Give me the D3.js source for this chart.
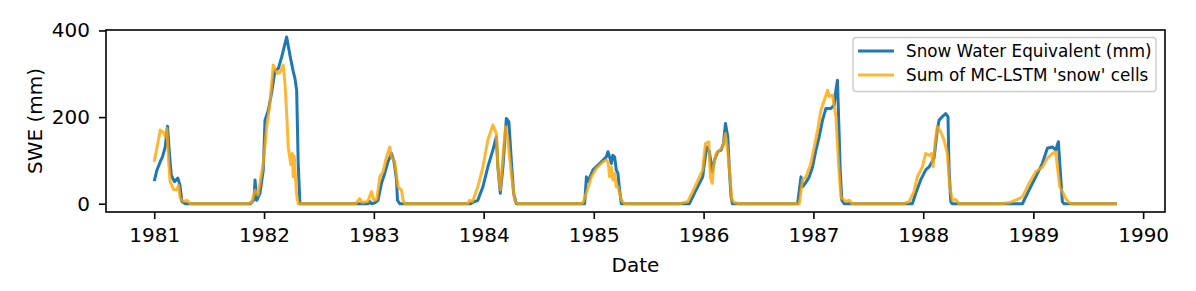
<!DOCTYPE html>
<html>
<head>
<meta charset="utf-8">
<script src="https://cdn.jsdelivr.net/npm/d3@7"></script>
<style>
  body { margin: 0; background: #fff; }
  text { font-family: "DejaVu Sans", sans-serif; }
</style>
</head>
<body>
<div id="chart"></div>
<script>
// observed snow water equivalent, [decimal year, mm]
var sweSeries = [
    [1981.000, 52], [1981.025, 78], [1981.055, 97], [1981.075, 108], [1981.100, 131],
    [1981.121, 179], [1981.136, 124], [1981.155, 66], [1981.184, 51], [1981.215, 59],
    [1981.234, 43], [1981.252, 5], [1981.282, 0],
    [1981.872, 0], [1981.891, 4], [1981.909, 10], [1981.918, 55], [1981.933, 8],
    [1981.963, 24], [1981.993, 78], [1982.009, 193], [1982.039, 216], [1982.070, 258],
    [1982.100, 308], [1982.130, 312], [1982.161, 339], [1982.181, 360], [1982.206, 385],
    [1982.236, 343], [1982.266, 305], [1982.281, 290], [1982.297, 262], [1982.311, 94],
    [1982.327, 0],
    [1982.950, 0], [1982.963, 5], [1982.980, 0], [1983.009, 2], [1983.038, 8],
    [1983.069, 47], [1983.099, 70], [1983.129, 97], [1983.160, 116], [1983.184, 97],
    [1983.206, 55], [1983.215, 8], [1983.236, 0],
    [1983.880, 0], [1983.902, 3], [1983.947, 8], [1983.993, 39], [1984.038, 85], [1984.084, 124],
    [1984.115, 155], [1984.129, 85], [1984.151, 24], [1984.175, 85], [1984.206, 197],
    [1984.229, 189], [1984.251, 101], [1984.272, 24], [1984.296, 0],
    [1984.917, 0], [1984.933, 62], [1984.947, 51], [1984.993, 78], [1985.053, 93],
    [1985.114, 108], [1985.129, 120], [1985.144, 108], [1985.160, 93], [1985.174, 112],
    [1985.190, 108], [1985.205, 78], [1985.220, 70], [1985.235, 32], [1985.251, 0],
    [1985.871, 0], [1985.916, 24], [1985.962, 47], [1985.992, 62], [1986.007, 93],
    [1986.029, 131], [1986.053, 120], [1986.078, 74], [1986.099, 101], [1986.129, 120],
    [1986.160, 124], [1986.181, 139], [1986.199, 185], [1986.220, 155], [1986.235, 78],
    [1986.250, 16], [1986.262, 0],
    [1986.856, 0], [1986.887, 62], [1986.901, 39], [1986.926, 47], [1986.962, 62],
    [1986.992, 85], [1987.023, 124], [1987.053, 155], [1987.083, 193], [1987.114, 220],
    [1987.159, 220], [1987.189, 228], [1987.205, 262], [1987.219, 285], [1987.235, 155],
    [1987.244, 78], [1987.259, 8], [1987.280, 0],
    [1987.901, 0], [1987.932, 24], [1987.977, 55], [1988.023, 78], [1988.053, 85],
    [1988.098, 105], [1988.128, 170], [1988.144, 193], [1988.173, 201], [1988.204, 208],
    [1988.225, 201], [1988.234, 85], [1988.250, 5], [1988.262, 0],
    [1988.901, 0], [1988.962, 32], [1989.022, 62], [1989.082, 93], [1989.128, 128],
    [1989.173, 131], [1989.204, 124], [1989.228, 143], [1989.243, 85], [1989.264, 5],
    [1989.280, 0], [1989.761, 0]
];

// sum of MC-LSTM 'snow' cells, [decimal year, mm]
var cellSeries = [
    [1981.000, 97], [1981.055, 170], [1981.085, 164], [1981.100, 155], [1981.115, 174],
    [1981.130, 101], [1981.145, 51], [1981.175, 33], [1981.206, 32], [1981.221, 43],
    [1981.236, 13], [1981.266, 5], [1981.297, 8], [1981.327, 0],
    [1981.854, 0], [1981.891, 5], [1981.918, 31], [1981.945, 20], [1981.993, 93],
    [1982.024, 178], [1982.054, 232], [1982.084, 320], [1982.100, 310], [1982.124, 301],
    [1982.145, 303], [1982.175, 320], [1982.191, 275], [1982.206, 208], [1982.221, 128],
    [1982.245, 90], [1982.257, 116], [1982.266, 62], [1982.275, 110], [1982.286, 60],
    [1982.297, 20], [1982.311, 0],
    [1982.836, 0], [1982.857, 8], [1982.872, 12], [1982.890, 3], [1982.945, 5],
    [1982.979, 28], [1983.000, 8], [1983.027, 10], [1983.054, 62], [1983.084, 74],
    [1983.115, 108], [1983.145, 131], [1983.160, 108], [1983.190, 97], [1983.220, 39],
    [1983.251, 32], [1983.266, 8], [1983.281, 0],
    [1983.854, 0], [1983.872, 8], [1983.899, 5], [1983.947, 39], [1983.993, 85],
    [1984.038, 147], [1984.084, 182], [1984.115, 162], [1984.129, 85], [1984.151, 32],
    [1984.175, 108], [1984.199, 178], [1984.220, 147], [1984.251, 70], [1984.281, 8],
    [1984.308, 0],
    [1984.880, 0], [1984.902, 2], [1984.947, 36], [1984.978, 62], [1985.023, 82], [1985.084, 97],
    [1985.114, 101], [1985.131, 95], [1985.144, 62], [1985.160, 85], [1985.174, 55],
    [1985.190, 70], [1985.205, 39], [1985.220, 40], [1985.251, 8], [1985.281, 0],
    [1985.781, 0], [1985.856, 5], [1985.916, 36], [1985.962, 62], [1985.992, 78],
    [1986.017, 139], [1986.047, 143], [1986.062, 62], [1986.078, 47], [1986.090, 85],
    [1986.114, 116], [1986.145, 124], [1986.175, 131], [1986.199, 162], [1986.220, 120],
    [1986.241, 62], [1986.256, 10], [1986.280, 3], [1986.326, 0],
    [1986.871, 0], [1986.901, 55], [1986.932, 62], [1986.977, 93], [1987.008, 131],
    [1987.038, 170], [1987.068, 216], [1987.099, 239], [1987.129, 262], [1987.145, 247],
    [1987.174, 251], [1987.205, 201], [1987.229, 93], [1987.250, 16], [1987.296, 5],
    [1987.326, 8], [1987.353, 0],
    [1987.825, 0], [1987.871, 5], [1987.916, 28], [1987.946, 62], [1987.992, 85],
    [1988.023, 116], [1988.053, 112], [1988.077, 116], [1988.089, 85], [1988.107, 139],
    [1988.128, 178], [1988.159, 166], [1988.189, 147], [1988.219, 116], [1988.241, 39],
    [1988.264, 8], [1988.295, 10], [1988.325, 0],
    [1988.700, 0], [1988.780, 2], [1988.855, 10], [1988.901, 16], [1988.961, 47], [1989.022, 74],
    [1989.082, 85], [1989.128, 105], [1989.173, 116], [1989.204, 120], [1989.219, 85],
    [1989.241, 39], [1989.264, 28], [1989.295, 12], [1989.325, 2], [1989.352, 0],
    [1989.761, 0]
];

var yearTicks = [1981, 1982, 1983, 1984, 1985, 1986, 1987, 1988, 1989, 1990];
var sweTicks = [0, 200, 400];
var legendLabels = ["Snow Water Equivalent (mm)", "Sum of MC-LSTM 'snow' cells"];
var seriesColors = ["#1f77b4", "orange"];

var w = 1196;
var h = 291;
var plotLeft = 106, plotRight = 1165, plotTop = 30, plotBottom = 212;

function toDate(dy) {
    var y = Math.floor(dy);
    var start = new Date(y, 0, 1), end = new Date(y + 1, 0, 1);
    return new Date(start.getTime() + (dy - y) * (end - start));
}

var svg = d3.select("#chart")
    .append("svg")
    .attr("width", w)
    .attr("height", h);

var xScale = d3.scaleTime()
    .domain([toDate(1980.562), toDate(1990.199)])
    .range([plotLeft, plotRight]);

var yScale = d3.scaleLinear()
    .domain([-19.1, 401.1])
    .range([plotBottom, plotTop]);

var line = d3.line()
    .x(function (d) { return xScale(toDate(d[0])); })
    .y(function (d) { return yScale(d[1]); });

svg.append("path")
    .datum(sweSeries)
    .attr("d", line)
    .attr("fill", "none")
    .attr("stroke", seriesColors[0])
    .attr("stroke-width", 3)
    .attr("stroke-linejoin", "round");

svg.append("path")
    .datum(cellSeries)
    .attr("d", line)
    .attr("fill", "none")
    .attr("stroke", seriesColors[1])
    .attr("stroke-opacity", 0.8)
    .attr("stroke-width", 3)
    .attr("stroke-linejoin", "round");

// axes
var xAxis = d3.axisBottom(xScale)
    .tickValues(yearTicks.map(function (y) { return new Date(y, 0, 1); }))
    .tickFormat(d3.timeFormat("%Y"))
    .tickSize(7)
    .tickPadding(9);

var yAxis = d3.axisLeft(yScale)
    .tickValues(sweTicks)
    .tickSize(7)
    .tickPadding(9);

var gx = svg.append("g")
    .attr("transform", "translate(0," + plotBottom + ")")
    .call(xAxis);
var gy = svg.append("g")
    .attr("transform", "translate(" + plotLeft + ",0)")
    .call(yAxis);

[gx, gy].forEach(function (g) {
    g.select(".domain").remove();
    g.selectAll(".tick line").attr("stroke", "#000").attr("stroke-width", 1.6);
    g.selectAll(".tick text")
        .attr("fill", "#000")
        .style("font-size", "20px")
        .style("font-family", "DejaVu Sans");
});

// frame
svg.append("rect")
    .attr("x", plotLeft)
    .attr("y", plotTop)
    .attr("width", plotRight - plotLeft)
    .attr("height", plotBottom - plotTop)
    .attr("fill", "none")
    .attr("stroke", "#000")
    .attr("stroke-width", 1.6);

svg.append("text")
    .text("Date")
    .attr("x", (plotLeft + plotRight) / 2)
    .attr("y", 272)
    .attr("text-anchor", "middle")
    .style("font-size", "20px");

svg.append("text")
    .text("SWE (mm)")
    .attr("transform", "translate(42," + (plotTop + plotBottom) / 2 + ") rotate(-90)")
    .attr("text-anchor", "middle")
    .style("font-size", "20px");

// legend
var legend = svg.append("g");
legend.append("rect")
    .attr("x", 853)
    .attr("y", 37.5)
    .attr("width", 303)
    .attr("height", 54)
    .attr("rx", 3)
    .attr("fill", "#fff")
    .attr("fill-opacity", 0.8)
    .attr("stroke", "#ccc")
    .attr("stroke-width", 1.4);

var items = legend.selectAll("g.item")
    .data(legendLabels)
    .enter()
    .append("g")
    .attr("class", "item")
    .attr("transform", function (d, i) { return "translate(0," + (51 + i * 24) + ")"; });

items.append("line")
    .attr("x1", 858)
    .attr("x2", 894)
    .attr("stroke", function (d, i) { return seriesColors[i]; })
    .attr("stroke-opacity", function (d, i) { return i == 1 ? 0.8 : 1; })
    .attr("stroke-width", 3);

items.append("text")
    .text(function (d) { return d; })
    .attr("x", 906)
    .attr("y", 5.8)
    .style("font-size", "16.8px");
</script>
</body>
</html>
